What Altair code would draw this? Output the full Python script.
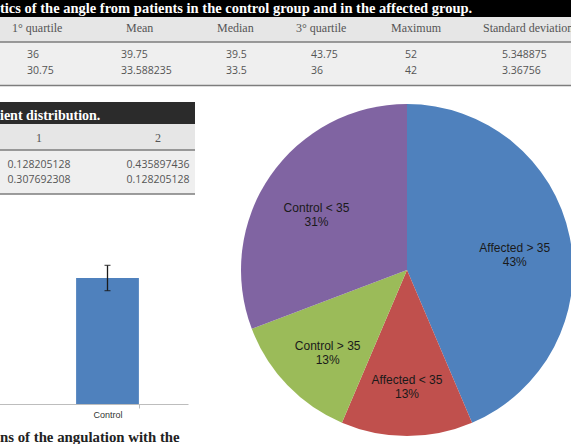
import altair as alt
import pandas as pd

# ---------------- data ----------------
table1_title = "tics of the angle from patients in the control group and in the affected group."
stat_cols = ["1° quartile", "Mean", "Median", "3° quartile", "Maximum", "Standard deviation"]
row_groups = ["Affected", "Control"]
affected_stats = [36, 39.75, 39.5, 43.75, 52, 5.348875]
control_stats = [30.75, 33.588235, 33.5, 36, 42, 3.36756]

table2_title = "ient distribution."
dist_cols = ["1", "2"]
dist_affected = [0.128205128, 0.435897436]
dist_control = [0.307692308, 0.128205128]

bar_groups = ["Affected", "Control"]
caption = "ns of the angulation with the"

pie_labels = ["Affected > 35", "Affected < 35", "Control > 35", "Control < 35"]
pie_values = [dist_affected[1], dist_affected[0], dist_control[1], dist_control[0]]
pie_pct = ["43%", "13%", "13%", "31%"]
pie_colors = ["#4F81BD", "#C0504D", "#9BBB59", "#8064A2"]

W, H = 571, 444
SERIF = "Liberation Serif"
SANS = "Open Sans"
one = alt.Data(values=[{"a": 1}])


def band(x0, x1, y0, y1, color):
    return alt.Chart(one).mark_rect(color=color).encode(
        x=alt.value(x0), x2=alt.value(x1), y=alt.value(y0), y2=alt.value(y1))


def hline(x0, x1, y, color="#7d7d7d", w=1.5):
    return alt.Chart(one).mark_rule(color=color, strokeWidth=w).encode(
        x=alt.value(x0), x2=alt.value(x1), y=alt.value(y))


def label(text, x, y, **kw):
    return alt.Chart(one).mark_text(text=text, align="left", baseline="alphabetic", **kw).encode(
        x=alt.value(x), y=alt.value(y))


def idx_scale(n, rng):
    return alt.Scale(domain=list(range(n)), range=rng, zero=False, nice=False)


# ---------------- table 1 ----------------
t1_hdr = pd.DataFrame({"col": stat_cols, "ci": range(len(stat_cols))})
t1_headers = alt.Chart(t1_hdr).mark_text(
    align="left", baseline="alphabetic", font=SERIF, fontSize=12, color="#555555"
).encode(
    x=alt.X("ci:Q", scale=idx_scale(6, [12, 126, 217, 296, 391, 483]), axis=None),
    y=alt.value(32),
    text="col:N",
)

t1_rows = []
for ri, (g, vals) in enumerate(zip(row_groups, [affected_stats, control_stats])):
    for ci, v in enumerate(vals):
        t1_rows.append({"group": g, "ri": ri, "ci": ci, "v": v})
t1_df = pd.DataFrame(t1_rows)
t1_cells = alt.Chart(t1_df).mark_text(
    align="left", baseline="alphabetic", font=SANS, fontSize=10.5, color="#555555"
).encode(
    x=alt.X("ci:Q", scale=idx_scale(6, [27, 121, 226, 311, 405, 502]), axis=None),
    y=alt.Y("ri:Q", scale=idx_scale(2, [57.5, 74]), axis=None),
    text="v:N",
)

# ---------------- table 2 ----------------
t2_hdr = pd.DataFrame({"col": dist_cols, "ci": range(len(dist_cols))})
t2_headers = alt.Chart(t2_hdr).mark_text(
    align="center", baseline="alphabetic", font=SERIF, fontSize=12, color="#555555"
).encode(
    x=alt.X("ci:Q", scale=idx_scale(2, [39, 158]), axis=None),
    y=alt.value(141.5),
    text="col:N",
)
t2_rows = []
for ri, (g, vals) in enumerate(zip(row_groups, [dist_affected, dist_control])):
    for ci, v in enumerate(vals):
        t2_rows.append({"group": g, "ri": ri, "ci": ci, "v": v})
t2_df = pd.DataFrame(t2_rows)
t2_cells = alt.Chart(t2_df).mark_text(
    align="center", baseline="alphabetic", font=SANS, fontSize=10.5, color="#555555"
).encode(
    x=alt.X("ci:Q", scale=idx_scale(2, [39, 158]), axis=None),
    y=alt.Y("ri:Q", scale=idx_scale(2, [167.5, 182.5]), axis=None),
    text="v:N",
)

# ---------------- bar chart ----------------
bar_df = pd.DataFrame({
    "group": bar_groups,
    "mean": [affected_stats[1], control_stats[1]],
    "sd": [affected_stats[5], control_stats[5]],
})
xs = alt.Scale(domain=bar_groups, range=[-134, 188], paddingInner=0.61, paddingOuter=0.305)
ys = alt.Scale(domain=[0, 45], range=[404, 235.2], zero=True, nice=False)
bar_base = alt.Chart(bar_df).transform_calculate(
    lo="datum.mean - datum.sd", hi="datum.mean + datum.sd"
)
bars = bar_base.mark_bar(color="#4F81BD", clip=True).encode(
    x=alt.X("group:N", scale=xs, title=None, axis=alt.Axis(
        orient="bottom", offset=-40, domainColor="#BDBDBD", tickColor="#BDBDBD",
        tickBand="extent", tickSize=4, labelFont="Liberation Sans", labelFontSize=9,
        labelColor="#333333", labelPadding=2, labelAngle=0, grid=False)),
    y=alt.Y("mean:Q", scale=ys, axis=None),
)
err = bar_base.mark_rule(color="#1a1a1a", strokeWidth=1.3, clip=True).encode(
    x=alt.X("group:N", scale=xs), y=alt.Y("lo:Q", scale=ys), y2="hi:Q")
cap_lo = bar_base.mark_tick(color="#1a1a1a", thickness=1.3, size=6, clip=True).encode(
    x=alt.X("group:N", scale=xs), y=alt.Y("lo:Q", scale=ys))
cap_hi = bar_base.mark_tick(color="#1a1a1a", thickness=1.3, size=6, clip=True).encode(
    x=alt.X("group:N", scale=xs), y=alt.Y("hi:Q", scale=ys))
bar_chart = alt.layer(bars, err, cap_lo, cap_hi)

# ---------------- pie ----------------
pie_df = pd.DataFrame({"label": pie_labels, "value": pie_values, "pct": pie_pct,
                       "k": range(len(pie_labels))})
pie_base = alt.Chart(pie_df).encode(
    theta=alt.Theta("value:Q", stack=True),
    order=alt.Order("k:Q"),
    x=alt.value(407), y=alt.value(270),
)
arcs = pie_base.mark_arc(outerRadius=166).encode(
    color=alt.Color("label:N", scale=alt.Scale(domain=pie_labels, range=pie_colors), legend=None))
pie_text = pie_base.transform_calculate(
    lbl="datum.label + '\\n' + datum.pct"
).mark_text(radius=110, font="Liberation Sans", fontSize=12, color="#1a1a1a",
            lineBreak="\n", lineHeight=14, baseline="middle", align="center").encode(text="lbl:N")
pie = alt.layer(arcs, pie_text)

# ---------------- assemble ----------------
layers = [
    band(0, W, 0, 17, "#000000"),
    band(0, W, 17, 42, "#e6e6e6"),
    band(0, W, 42, 85.5, "#efefef"),
    hline(0, W, 42),
    hline(0, W, 85.5),
    label(table1_title, 0, 12.5, font=SERIF, fontSize=14.5, fontWeight="bold", color="#ffffff"),
    t1_headers, t1_cells,
    band(0, 195, 102, 124, "#2b2b2b"),
    band(0, 195, 124, 150, "#e6e6e6"),
    band(0, 195, 150, 194, "#efefef"),
    hline(0, 195, 150),
    hline(0, 195, 194),
    label(table2_title, 0, 119.5, font=SERIF, fontSize=14, fontWeight="bold", color="#ffffff"),
    t2_headers, t2_cells,
    bar_chart,
    label(caption, 0, 442, font=SERIF, fontSize=14.8, fontWeight="bold", color="#222222"),
    pie,
]

chart = alt.layer(*layers).resolve_scale(
    x="independent", y="independent"
).properties(
    width=W, height=H, padding=0, autosize=alt.AutoSizeParams(type="none"), background="white"
).configure_view(stroke=None)

chart.save("out.html", embed_options={"renderer": "svg", "actions": False})
